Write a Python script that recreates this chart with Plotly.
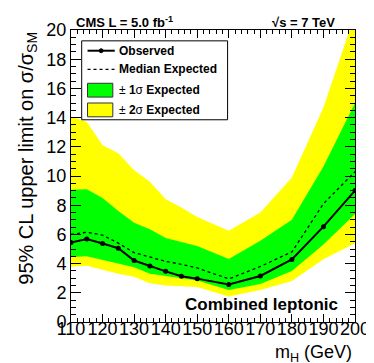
"""
95% CL upper limit on sigma/sigma_SM vs Higgs mass, combined leptonic channels
ROOT/CMS style: green and yellow expected bands, observed line with markers
"""
import plotly.graph_objects as go

mass = [110, 115, 120, 125, 130, 135, 140, 145, 150, 160, 170, 180, 190, 200]
observed = [5.45, 5.68, 5.38, 5.05, 4.21, 3.83, 3.47, 3.13, 2.97, 2.57, 3.15, 4.28, 6.53, 9.0]
expected = [6.0, 6.15, 5.95, 5.4, 4.75, 4.45, 4.15, 3.95, 3.7, 2.95, 3.8, 4.8, 8.1, 10.3]
one_sigma_up = [9.05, 9.1, 8.5, 7.6, 6.8, 6.35, 5.75, 5.5, 5.2, 4.32, 5.56, 7.0, 10.65, 15.0]
one_sigma_down = [4.45, 4.5, 4.2, 4.0, 3.75, 3.3, 3.1, 3.0, 2.85, 2.2, 2.6, 3.5, 5.3, 7.4]
two_sigma_up = [14.1, 13.7, 12.1, 11.55, 10.4, 9.6, 8.4, 7.85, 7.2, 6.25, 7.5, 9.9, 14.7, 21.1]
two_sigma_down = [3.8, 3.85, 3.55, 3.3, 3.1, 2.65, 2.5, 2.45, 2.4, 1.75, 2.2, 2.8, 4.3, 5.4]

FONT = 'Liberation Sans, Arial, Helvetica, sans-serif'
W, H = 374, 363
L, R, T, B = 63, 19, 18, 49


# pixel -> paper coordinates (for legend box and texts)
def px(x):
    return (x - L) / (W - L - R)


def py(y):
    return (H - B - y) / (H - T - B)


def band(lo, hi, color):
    return go.Scatter(x=mass + mass[::-1], y=hi + lo[::-1], fill='toself',
                      fillcolor=color, line=dict(width=0), mode='lines',
                      hoverinfo='skip', showlegend=False)


fig = go.Figure()
fig.add_trace(band(two_sigma_down, two_sigma_up, '#ffff00'))
fig.add_trace(band(one_sigma_down, one_sigma_up, '#00ff00'))
fig.add_trace(go.Scatter(x=mass, y=expected, mode='lines',
                         line=dict(color='black', width=1.3, dash='dot'), showlegend=False))
fig.add_trace(go.Scatter(x=mass, y=observed, mode='lines+markers',
                         line=dict(color='black', width=2),
                         marker=dict(color='black', size=5), showlegend=False))

axis = dict(showline=True, linecolor='black', linewidth=1, mirror='ticks',
            ticks='inside', tickcolor='black', showgrid=False, zeroline=False,
            tickangle=0, tickfont=dict(family=FONT, size=18, color='black'))
fig.update_xaxes(range=[110, 200], tick0=110, dtick=10, ticklen=8, ticklabelstandoff=-10,
                 minor=dict(dtick=2, ticklen=4, ticks='inside', tickcolor='black'), **axis)
fig.update_yaxes(range=[0, 20], tick0=0, dtick=2, ticklen=10,
                 minor=dict(dtick=0.5, ticklen=5, ticks='inside', tickcolor='black'), **axis)

# legend drawn by hand, ROOT TLegend style
shapes = [
    dict(type='rect', x0=px(74), x1=px(224), y0=py(29), y1=py(109),
         line=dict(color='black', width=1), fillcolor='white'),
    dict(type='line', x0=px(80), x1=px(108), y0=py(39), y1=py(39),
         line=dict(color='black', width=2)),
    dict(type='circle', x0=px(92), x1=px(96), y0=py(37), y1=py(41),
         line=dict(color='black', width=1), fillcolor='black'),
    dict(type='line', x0=px(80), x1=px(108), y0=py(58), y1=py(58),
         line=dict(color='black', width=1.3, dash='dot')),
    dict(type='rect', x0=px(80), x1=px(106), y0=py(72), y1=py(86),
         line=dict(color='#333333', width=1), fillcolor='#00ff00'),
    dict(type='rect', x0=px(80), x1=px(106), y0=py(92), y1=py(106),
         line=dict(color='#333333', width=1), fillcolor='#ffff00'),
]
for s in shapes:
    s.update(xref='paper', yref='paper', layer='above')

labels = [('<b>Observed</b>', 39), ('<b>Median Expected</b>', 58),
          ('±<b> 1</b>σ<b> Expected</b>', 79), ('±<b> 2</b>σ<b> Expected</b>', 99)]
annotations = [dict(text=t, x=px(110), y=py(y), xanchor='left', yanchor='middle',
                    font=dict(family=FONT, size=12, color='black')) for t, y in labels]
annotations += [
    dict(text='<b>CMS L = 5.0 fb<sup>-1</sup></b>', x=px(66), y=py(10), xanchor='left',
         yanchor='middle', font=dict(family=FONT, size=13, color='black')),
    dict(text='<b>√s = 7 TeV</b>', x=px(336), y=py(10), xanchor='right',
         yanchor='middle', font=dict(family=FONT, size=13, color='black')),
    dict(text='<b>Combined leptonic</b>', x=px(340), y=py(296), xanchor='right',
         yanchor='middle', font=dict(family=FONT, size=17, color='black')),
    dict(text='m<sub>H</sub> (GeV)', x=px(354), y=py(346), xanchor='right',
         yanchor='middle', font=dict(family=FONT, size=18, color='black')),
    dict(text='95% CL upper limit on σ/σ<sub>SM</sub>', x=px(18), y=py(18), textangle=-90,
         xanchor='center', yanchor='top', font=dict(family=FONT, size=20, color='black')),
]
for a in annotations:
    a.update(xref='paper', yref='paper', showarrow=False)

fig.layout.update(width=W, height=H, margin=dict(l=L, r=R, t=T, b=B),
                  paper_bgcolor='white', plot_bgcolor='white',
                  shapes=shapes, annotations=annotations, showlegend=False)
fig.write_html("out.html")
